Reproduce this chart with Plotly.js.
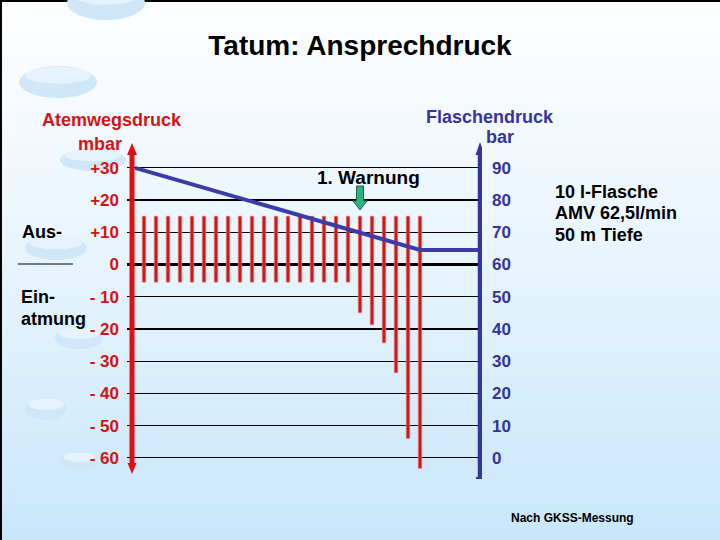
<!DOCTYPE html>
<html>
<head>
<meta charset="utf-8">
<script src="https://cdn.plot.ly/plotly-3.0.1.min.js"></script>
<style>
  html, body { margin:0; padding:0; }
  #chart {
    width:720px; height:540px;
    background: linear-gradient(to bottom, #fdfeff 0%, #f5faff 22%, #e6f4fd 50%, #d6edfc 75%, #c9e7fb 100%);
    box-shadow: inset 2px 2px 0 #000;
  }
</style>
</head>
<body>
<div id="chart"></div>
<script>
// ---- data ----
const breaths = [1,2,3,4,5,6,7,8,9,10,11,12,13,14,15,16,17,18,19,20,21,22,23,24];
const exhalePeak = [15,15,15,15,15,15,15,15,15,15,15,15,15,15,15,15,15,15,15,15,15,15,15,15];
const inhalePeak = [-5.5,-5.5,-5.5,-5.5,-5.5,-5.5,-5.5,-5.5,-5.5,-5.5,-5.5,-5.5,-5.5,-5.5,-5.5,-5.5,-5.5,-5.5,-15,-18.7,-24.3,-33.6,-54,-63.3];
const pressureTime = [0.25, 24, 29];
const cylinderBar = [90, 64.5, 64.5];
const leftTickVals = [30,20,10,0,-10,-20,-30,-40,-50,-60];
const leftTickText = ['+30','+20','+10','0','- 10','- 20','- 30','- 40','- 50','- 60'];
const rightTickVals = [90,80,70,60,50,40,30,20,10,0];
const rightTickText = ['90','80','70','60','50','40','30','20','10','0'];

// ---- geometry helpers (style only) ----
const L = 127, R = 482, T = 100, B = 490;
const yLo = (264.5 - B) / 3.222, yHi = (264.5 - T) / 3.222;
const xLo = (L - 132) / 12, xHi = (R - 132) / 12;
const offset = 60; // Flaschendruck = Atemwegsdruck + 60
function px(x){ return (x - L) / (R - L); }
function py(y){ return (B - y) / (B - T); }
function my(p){ return (264.5 - p) / 3.222; }
function mx(p){ return (p - 132) / 12; }

const FONT = 'Liberation Sans, Arial, sans-serif';
const RED = '#d41414', BLUE = '#34349e';

const barHeights = inhalePeak.map((v, i) => exhalePeak[i] - v);

const traces = [
  {
    type: 'bar', x: breaths, y: barHeights, base: inhalePeak,
    width: 0.3, marker: { color: '#c91a1a', line: { color: 'rgba(255,140,140,0.6)', width: 1 } },
    hoverinfo: 'skip', xaxis: 'x', yaxis: 'y'
  },
  {
    type: 'scatter', mode: 'lines', x: pressureTime, y: cylinderBar,
    line: { color: '#3c3ca8', width: 4 }, hoverinfo: 'skip', xaxis: 'x', yaxis: 'y2'
  }
];

function cloud(cx, cy, rx, ry){
  return [
    { type:'circle', xref:'paper', yref:'paper', layer:'below',
      x0:px(cx-rx), x1:px(cx+rx), y0:py(cy+ry), y1:py(cy-ry),
      fillcolor:'#cfe7f9', line:{width:0} },
    { type:'circle', xref:'paper', yref:'paper', layer:'below',
      x0:px(cx-rx*0.85), x1:px(cx+rx*0.85), y0:py(cy+ry*0.1), y1:py(cy-ry*0.95),
      fillcolor:'rgba(255,255,255,0.5)', line:{width:0} }
  ];
}

const shapes = [].concat(
  cloud(106, 3, 39, 17),
  cloud(58, 82, 39, 16),
  cloud(93, 160, 33, 11),
  cloud(56, 248, 31, 12),
  cloud(79, 338, 24, 11),
  cloud(46, 409, 21, 11),
  cloud(79, 461, 18, 9),
  [
    // separator under "Aus-"
    { type:'line', xref:'paper', yref:'paper', x0:px(18), x1:px(73), y0:py(264), y1:py(264), line:{color:'#000', width:1} },
    // left (red) axis
    { type:'line', xref:'x', yref:'y', x0:0, x1:0, y0:my(152), y1:my(466), line:{color:'#e01010', width:5}, layer:'above' },
    { type:'path', xref:'x', yref:'y', path:`M ${mx(127)} ${my(155)} L ${mx(132)} ${my(143)} L ${mx(137)} ${my(155)} Z`, fillcolor:'#e01010', line:{width:0}, layer:'above' },
    { type:'path', xref:'x', yref:'y', path:`M ${mx(127.5)} ${my(463)} L ${mx(132)} ${my(474)} L ${mx(136.5)} ${my(463)} Z`, fillcolor:'#e01010', line:{width:0}, layer:'above' },
    // right (blue) axis
    { type:'line', xref:'x', yref:'y', x0:mx(480), x1:mx(480), y0:my(152), y1:my(478), line:{color:BLUE, width:4.5}, layer:'above' },
    { type:'path', xref:'x', yref:'y', path:`M ${mx(475.5)} ${my(155)} L ${mx(480)} ${my(142)} L ${mx(484.5)} ${my(155)} Z`, fillcolor:BLUE, line:{width:0}, layer:'above' },
    { type:'line', xref:'x', yref:'y', x0:mx(476), x1:mx(484), y0:my(478), y1:my(478), line:{color:BLUE, width:2}, layer:'above' },
    // green warning arrow
    { type:'path', xref:'x', yref:'y',
      path:`M ${mx(356.5)} ${my(186)} L ${mx(363.5)} ${my(186)} L ${mx(363.5)} ${my(201)} L ${mx(367)} ${my(201)} L ${mx(360)} ${my(210)} L ${mx(353)} ${my(201)} L ${mx(356.5)} ${my(201)} Z`,
      fillcolor:'#2bb57c', line:{color:'#1d6b4b', width:1}, layer:'above' }
  ]
);

function ann(text, x, y, opts){
  return Object.assign({ text, xref:'paper', yref:'paper', x:px(x), y:py(y), showarrow:false,
    xanchor:'center', yanchor:'middle',
    font:{ family:FONT, size:18, weight:700, color:'#000' } }, opts || {});
}

const annotations = [
  ann('Atemwegsdruck', 112, 120, { font:{family:FONT, size:18, weight:700, color:RED} }),
  ann('mbar', 100, 144, { font:{family:FONT, size:18, weight:700, color:RED} }),
  ann('Flaschendruck', 490, 117, { font:{family:FONT, size:18, weight:700, color:BLUE} }),
  ann('bar', 500, 137, { font:{family:FONT, size:18, weight:700, color:BLUE} }),
  ann('1. Warnung', 368, 177, { font:{family:FONT, size:19, weight:700, color:'#000'} }),
  ann('10 l-Flasche', 553, 192, { xanchor:'left' }),
  ann('AMV 62,5l/min', 553, 213, { xanchor:'left' }),
  ann('50 m Tiefe', 553, 235, { xanchor:'left' }),
  ann('Aus-', 20, 232, { xanchor:'left' }),
  ann('Ein-', 19, 297, { xanchor:'left' }),
  ann('atmung', 19, 319, { xanchor:'left' }),
  ann('Nach GKSS-Messung', 509, 518, { xanchor:'left', font:{family:FONT, size:12, weight:700, color:'#000'} })
];

const layout = {
  width: 720, height: 540,
  margin: { l: L, r: 720 - R, t: T, b: 540 - B, pad: 0 },
  paper_bgcolor: 'rgba(0,0,0,0)', plot_bgcolor: 'rgba(0,0,0,0)',
  showlegend: false,
  title: { text: 'Tatum: Ansprechdruck', x: 0.5, xref: 'container', xanchor: 'center',
           y: 1 - 45/540, yref: 'container', yanchor: 'middle',
           font: { family: FONT, size: 28, weight: 700, color: '#000' } },
  xaxis: { range: [xLo, xHi], visible: false, fixedrange: true },
  yaxis: { range: [yLo, yHi], tickvals: leftTickVals, ticktext: leftTickText,
           showgrid: true, gridcolor: '#000', gridwidth: 1.2,
           zeroline: true, zerolinecolor: '#000', zerolinewidth: 3.5,
           showline: false, ticks: '', ticklabelstandoff: 7,
           tickfont: { family: FONT, size: 17, weight: 700, color: RED } },
  yaxis2: { range: [yLo + offset, yHi + offset], overlaying: 'y', side: 'right',
            tickvals: rightTickVals, ticktext: rightTickText,
            showgrid: false, zeroline: false, showline: false, ticks: '', ticklabelstandoff: 9,
            tickfont: { family: FONT, size: 17, weight: 700, color: BLUE } },
  shapes, annotations
};

Plotly.newPlot('chart', traces, layout, { staticPlot: true, displayModeBar: false });
</script>
</body>
</html>
